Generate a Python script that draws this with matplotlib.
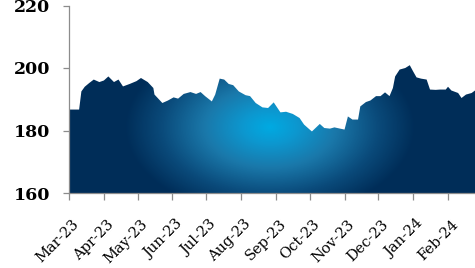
import numpy as np
import pandas as pd
import matplotlib
matplotlib.use("Agg")
import matplotlib.pyplot as plt
import matplotlib.dates as mdates
from matplotlib.colors import LinearSegmentedColormap
from matplotlib.transforms import offset_copy

# values
dates = [
    "2023-03-01", "2023-03-10", "2023-03-12", "2023-03-15", "2023-03-19", "2023-03-23",
    "2023-03-28", "2023-04-01", "2023-04-05", "2023-04-10", "2023-04-14", "2023-04-18",
    "2023-04-24", "2023-04-30", "2023-05-04", "2023-05-10", "2023-05-15", "2023-05-16",
    "2023-05-23", "2023-05-28", "2023-06-02", "2023-06-06", "2023-06-11", "2023-06-17",
    "2023-06-22", "2023-06-26", "2023-06-30", "2023-07-06", "2023-07-09", "2023-07-13",
    "2023-07-17", "2023-07-21", "2023-07-25", "2023-07-30", "2023-08-05", "2023-08-09",
    "2023-08-14", "2023-08-20", "2023-08-25", "2023-08-30", "2023-09-02", "2023-09-05",
    "2023-09-10", "2023-09-16", "2023-09-22", "2023-09-26", "2023-10-01", "2023-10-03",
    "2023-10-10", "2023-10-14", "2023-10-19", "2023-10-23", "2023-10-28", "2023-11-01",
    "2023-11-04", "2023-11-08", "2023-11-13", "2023-11-15", "2023-11-20", "2023-11-24",
    "2023-11-29", "2023-12-03", "2023-12-07", "2023-12-11", "2023-12-14", "2023-12-16",
    "2023-12-20", "2023-12-25", "2023-12-29", "2024-01-01", "2024-01-04", "2024-01-08",
    "2024-01-13", "2024-01-16", "2024-01-21", "2024-01-25", "2024-01-30", "2024-02-01",
    "2024-02-04", "2024-02-10", "2024-02-13", "2024-02-17", "2024-02-22", "2024-02-25",
]
values = [
    186.7, 186.7, 192.5, 194.0, 195.2, 196.3,
    195.5, 196.0, 197.3, 195.5, 196.3, 194.1,
    194.9, 195.8, 196.8, 195.5, 193.6, 191.5,
    188.8, 189.6, 190.6, 190.2, 191.7, 192.3,
    191.7, 192.3, 191.0, 189.3, 191.5, 196.6,
    196.3, 194.9, 194.5, 192.5, 191.3, 191.0,
    188.8, 187.4, 187.2, 189.0, 187.4, 185.8,
    186.0, 185.3, 184.0, 181.9, 180.3, 179.7,
    182.1, 180.8, 180.6, 181.0, 180.6, 180.3,
    184.5, 183.5, 183.5, 187.7, 189.1, 189.6,
    191.0, 191.0, 192.2, 191.0, 193.6, 197.3,
    199.5, 200.0, 200.9, 198.9, 197.0, 196.6,
    196.3, 193.1, 193.0, 193.1, 193.1, 194.0,
    192.8, 192.0, 190.4, 191.5, 192.0, 192.8,
]
month_ticks = ["2023-03-01", "2023-04-01", "2023-05-01", "2023-06-01", "2023-07-01",
               "2023-08-01", "2023-09-01", "2023-10-01", "2023-11-01", "2023-12-01",
               "2024-01-01", "2024-02-01"]
month_labels = ["Mar-23", "Apr-23", "May-23", "Jun-23", "Jul-23", "Aug-23",
                "Sep-23", "Oct-23", "Nov-23", "Dec-23", "Jan-24", "Feb-24"]
y_ticks = [160, 180, 200, 220]

xn = mdates.date2num(pd.to_datetime(dates))
tn = mdates.date2num(pd.to_datetime(month_ticks))

fig = plt.figure(figsize=(4.75, 2.68), dpi=100)
ax = fig.add_axes([69 / 475, 75 / 268, 406 / 475, 187.5 / 268])
ax.set_xlim(xn[0], xn[-1])
ax.set_ylim(160, 220)

# area shape used as clip path for the radial gradient
poly = ax.fill_between(xn, values, 160, color="none", linewidth=0)

cmap = LinearSegmentedColormap.from_list(
    "navy", [(0.0, "#00aae2"), (0.18, "#0c98d0"), (0.45, "#1a78aa"),
             (0.75, "#0a4a7a"), (1.0, "#002d58")])
w, h = 406, 188
px, py = np.meshgrid(np.arange(w) + 0.5, np.arange(h) + 0.5)
cx, cy = 201, 66  # centre of the light spot, pixels from bottom-left
t = np.sqrt(((px - cx) / 145.0) ** 2 + ((py - cy) / 90.0) ** 2)
t = np.clip(t, 0, 1)
img = ax.imshow(t, cmap=cmap, vmin=0, vmax=1, origin="lower", aspect="auto",
                extent=[xn[0], xn[-1], 160, 220], interpolation="bilinear", zorder=1)
img.set_clip_path(poly.get_paths()[0], transform=ax.transData)

ax.spines["top"].set_visible(False)
ax.spines["right"].set_visible(False)
for s in ["left", "bottom"]:
    ax.spines[s].set_color("#8c8c8c")
    ax.spines[s].set_linewidth(0.9)
    ax.spines[s].set_zorder(3)

ax.set_yticks(y_ticks)
ax.set_yticklabels([str(v) for v in y_ticks], fontfamily="DejaVu Serif",
                   fontweight="bold", fontsize=12.5)
ax.tick_params(axis="y", length=4.5, width=0.9, color="#8c8c8c", pad=9)

# month labels drawn as rotated texts under each tick
ax.set_xticks(tn)
ax.set_xticklabels([])
ax.tick_params(axis="x", length=5, width=0.9, color="#8c8c8c")
lab_trans = offset_copy(ax.get_xaxis_transform(), fig=fig, x=3, y=-24, units="dots")
for pos, lab in zip(tn, month_labels):
    ax.text(pos, 0, lab, transform=lab_trans, rotation=45, rotation_mode="anchor",
            ha="right", va="top", fontfamily="DejaVu Serif", fontsize=10.5,
            clip_on=False)

fig.savefig("out.png", dpi=100)
